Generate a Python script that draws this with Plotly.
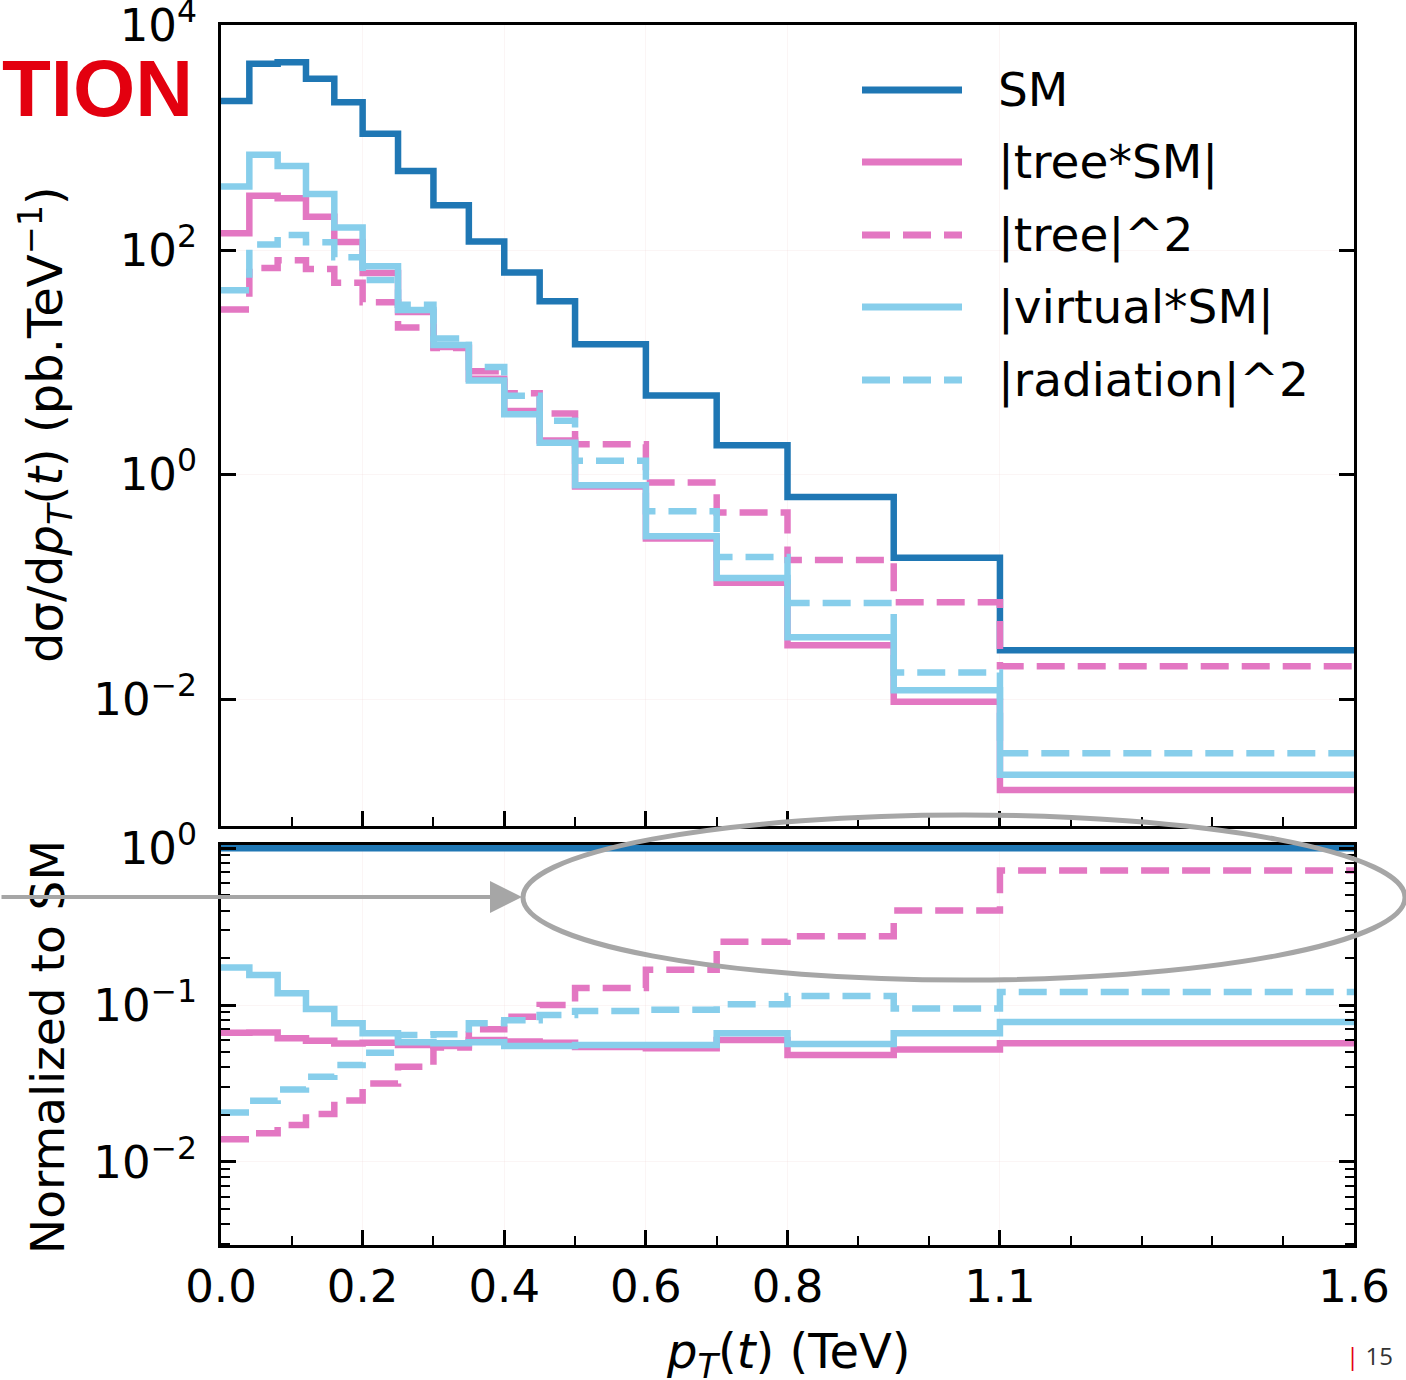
import plotly.graph_objects as go

# ---------------- data ----------------
bin_edges = [0.0, 0.04, 0.08, 0.12, 0.16, 0.2, 0.25, 0.3, 0.35, 0.4, 0.45, 0.5,
             0.6, 0.7, 0.8, 0.95, 1.1, 1.6]
sm = [2120, 4560, 4710, 3350, 2075, 1087, 505, 250, 119, 63, 35, 14.5,
      5.07, 1.82, 0.63, 0.182, 0.0272]
tree_sm = [141, 304, 289, 198, 118, 62.5, 28.1, 13.7, 7.12, 3.69, 2.01, 0.783,
           0.269, 0.109, 0.0302, 0.00946, 0.00155]
tree_sq = [29.5, 69.3, 81, 67.7, 51, 34.3, 20.4, 13.4, 8.33, 5.31, 3.5, 1.86,
           0.852, 0.46, 0.173, 0.0728, 0.0196]
virtual_sm = [367, 707, 560, 316, 158.5, 71.7, 29.2, 14.25, 6.9, 3.45, 1.92, 0.805,
              0.282, 0.12, 0.0356, 0.012, 0.00212]
radiation_sq = [43.7, 112, 136, 117, 86.1, 54, 32.5, 16.3, 9.09, 5.04, 3.02, 1.33,
                0.472, 0.184, 0.0718, 0.0173, 0.00329]

series_names = ["SM", "|tree*SM|", "|tree|^2", "|virtual*SM|", "|radiation|^2"]
series_values = [sm, tree_sm, tree_sq, virtual_sm, radiation_sq]
series_colors = ["#1f77b4", "#e377c2", "#e377c2", "#87ceeb", "#87ceeb"]
series_dash = ["solid", "solid", "28px,13px", "solid", "28px,13px"]

x_tickvals = [0.0, 0.2, 0.4, 0.6, 0.8, 1.1, 1.6]
x_ticktext = ["0.0", "0.2", "0.4", "0.6", "0.8", "1.1", "1.6"]
x_minor = [0.1, 0.3, 0.5, 0.7, 0.9, 1.0, 1.2, 1.3, 1.4, 1.5]

W, H = 1406, 1380
FONT = "DejaVu Sans"
GRID = "rgba(240,215,215,0.25)"
LW = 6.5


def px_x(p):
    return p / W


def px_y(p):
    return 1 - p / H


fig = go.Figure()

for name, vals, col, dash in zip(series_names, series_values, series_colors, series_dash):
    fig.add_trace(go.Scatter(
        x=bin_edges, y=list(vals) + [vals[-1]], mode="lines",
        line=dict(color=col, width=LW, dash=dash, shape="hv"),
        xaxis="x", yaxis="y", name=name, showlegend=False, hoverinfo="skip"))

for name, vals, col, dash in zip(series_names, series_values, series_colors, series_dash):
    ratio = [v / s for v, s in zip(vals, sm)]
    fig.add_trace(go.Scatter(
        x=bin_edges, y=ratio + [ratio[-1]], mode="lines",
        line=dict(color=col, width=LW, dash=dash, shape="hv"),
        xaxis="x2", yaxis="y2", name=name, showlegend=False, hoverinfo="skip"))

axis_common = dict(showline=True, linecolor="black", linewidth=3, automargin=False,
                   ticks="inside", tickcolor="black", tickwidth=2.5, ticklen=15,
                   tickfont=dict(family=FONT, size=45, color="black"),
                   ticklabeloverflow="allow",
                   showgrid=True, gridcolor=GRID, gridwidth=1, zeroline=False)

xdom = [px_x(221), px_x(1354)]
fig.update_layout(
    width=W, height=H, margin=dict(l=0, r=0, t=0, b=0, autoexpand=False),
    paper_bgcolor="white", plot_bgcolor="white", showlegend=False,
    xaxis=dict(domain=xdom, anchor="y", range=[0, 1.6], tickmode="array",
               tickvals=x_tickvals, ticktext=x_ticktext, showticklabels=False,
               mirror=True,
               minor=dict(tickmode="array", tickvals=x_minor, ticks="inside",
                          ticklen=9, tickwidth=2, tickcolor="black", showgrid=False),
               **axis_common),
    yaxis=dict(domain=[px_y(826), px_y(25)], anchor="x", type="log",
               range=[-3.13, 4.004], tickmode="array",
               tickvals=[1e-2, 1, 1e2, 1e4],
               ticktext=["10<sup>−2</sup>", "10<sup>0</sup>", "10<sup>2</sup>", "10<sup>4</sup>"],
               mirror="ticks", ticklabelstandoff=12, **axis_common),
    xaxis2=dict(domain=xdom, anchor="y2", range=[0, 1.6], tickmode="array",
                tickvals=x_tickvals, ticktext=x_ticktext, mirror=True,
                ticklabelstandoff=0,
                minor=dict(tickmode="array", tickvals=x_minor, ticks="inside",
                           ticklen=9, tickwidth=2, tickcolor="black", showgrid=False),
                **axis_common),
    yaxis2=dict(domain=[px_y(1245), px_y(845)], anchor="x2", type="log",
                range=[-2.53, 0.02], tickmode="array",
                tickvals=[1e-2, 1e-1, 1],
                ticktext=["10<sup>−2</sup>", "10<sup>−1</sup>", "10<sup>0</sup>"],
                mirror="ticks", ticklabelstandoff=12,
                minor=dict(tickmode="array",
                           tickvals=[k * 10 ** d for d in (-3, -2, -1) for k in range(2, 10)],
                           ticks="inside", ticklen=9, tickwidth=2, tickcolor="black",
                           showgrid=False),
                **axis_common),
)

# ---------- legend (manual, long samples) ----------
leg_y = [90, 162, 235, 307, 380]
for name, col, dash, yy in zip(series_names, series_colors, series_dash, leg_y):
    fig.add_shape(type="line", xref="paper", yref="paper",
                  x0=px_x(862), x1=px_x(962), y0=px_y(yy), y1=px_y(yy),
                  line=dict(color=col, width=7, dash=dash))
    fig.add_annotation(xref="paper", yref="paper", x=px_x(996), y=px_y(yy),
                       xanchor="left", yanchor="middle", showarrow=False,
                       text=name, font=dict(family=FONT, size=47, color="black"))

# ---------- axis titles ----------
fig.add_annotation(xref="paper", yref="paper", x=px_x(45), y=px_y(425),
                   text="dσ/d<i>p</i><sub><i>T</i></sub>(<i>t</i>) (pb.TeV<sup>−1</sup>)",
                   textangle=-90, showarrow=False, xanchor="center", yanchor="middle",
                   font=dict(family=FONT, size=48, color="black"))
fig.add_annotation(xref="paper", yref="paper", x=px_x(47), y=px_y(1047),
                   text="Normalized to SM", textangle=-90, showarrow=False,
                   xanchor="center", yanchor="middle",
                   font=dict(family=FONT, size=47, color="black"))
fig.add_annotation(xref="paper", yref="paper", x=px_x(788), y=px_y(1354),
                   text="<i>p</i><sub><i>T</i></sub>(<i>t</i>) (TeV)", showarrow=False,
                   xanchor="center", yanchor="middle",
                   font=dict(family=FONT, size=48, color="black"))

# ---------- slide decorations ----------
fig.add_annotation(xref="paper", yref="paper", x=0, y=px_y(88),
                   text="<b>TION</b>", showarrow=False, xanchor="left", yanchor="middle",
                   font=dict(family="Liberation Sans", size=80, color="#e3000f"))
fig.add_annotation(xref="paper", yref="paper", x=px_x(1395), y=px_y(1355),
                   text="<span style='color:#e3000f'>|</span> 15", showarrow=False,
                   xanchor="right", yanchor="middle",
                   font=dict(family="Open Sans", size=24, color="#333333"))

fig.add_shape(type="circle", xref="paper", yref="paper",
              x0=px_x(523), x1=px_x(1405), y0=px_y(980), y1=px_y(815),
              line=dict(color="#a6a6a6", width=5), layer="above")
fig.add_annotation(xref="paper", yref="paper", x=px_x(522), y=px_y(897),
                   ax=-522, ay=0, axref="pixel", ayref="pixel", text="",
                   showarrow=True, arrowhead=2, arrowsize=1.6, arrowwidth=4,
                   arrowcolor="#a6a6a6")

fig.write_html("out.html")
